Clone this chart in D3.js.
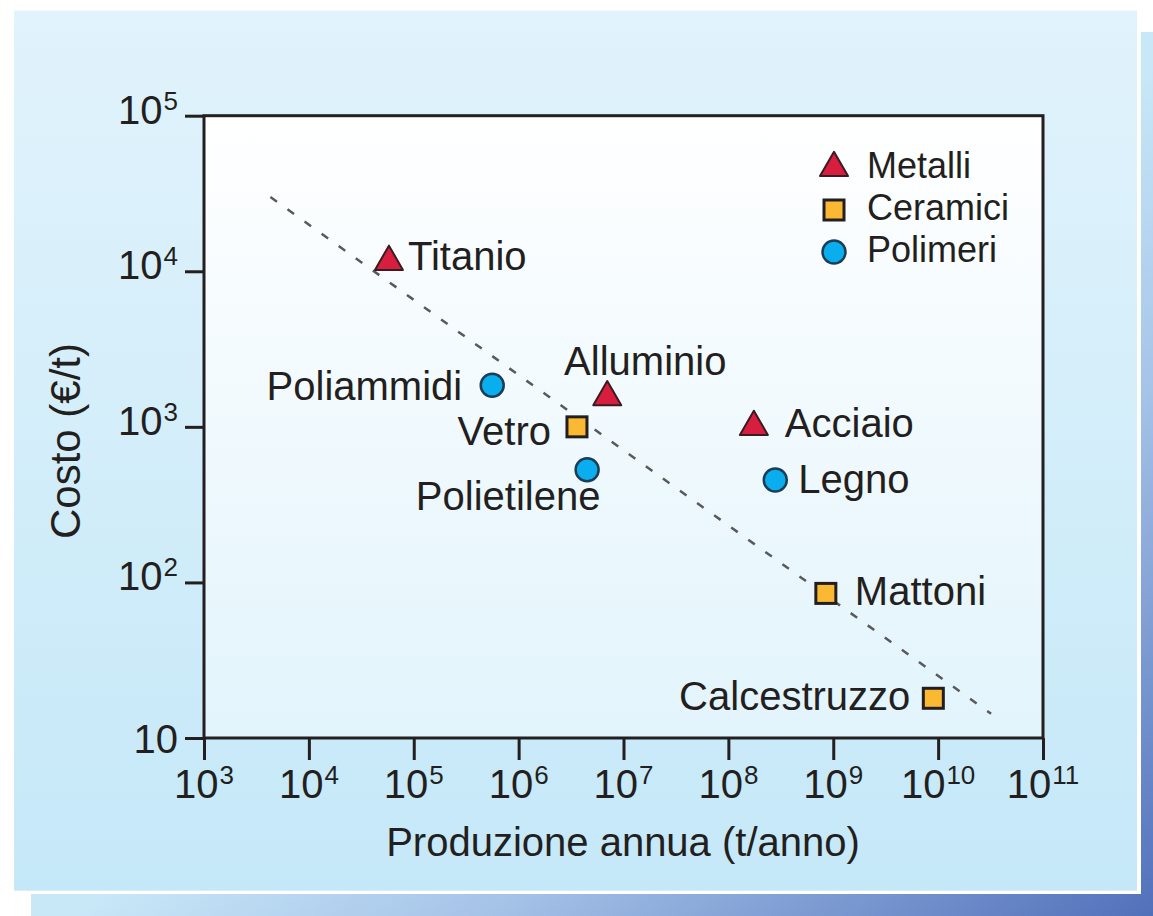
<!DOCTYPE html>
<html lang="it">
<head>
<meta charset="utf-8">
<title>Costo vs produzione annua</title>
<script src="https://cdn.jsdelivr.net/npm/d3@7"></script>
<style>
body { margin:0; background:#fff; }
text { font-family:"Liberation Sans", Arial, sans-serif; fill:#231f20; }
.tick line { stroke:#231f20; stroke-width:3px; }
</style>
</head>
<body>
<div id="chart1"></div>
<script>
// dati
var materials  = ["Titanio", "Alluminio", "Acciaio", "Vetro", "Mattoni", "Calcestruzzo", "Poliammidi", "Polietilene", "Legno"];
var classes    = ["Metalli", "Metalli", "Metalli", "Ceramici", "Ceramici", "Ceramici", "Polimeri", "Polimeri", "Polimeri"];
var production = [5.8e4, 7.0e6, 1.75e8, 3.6e6, 8.5e8, 9.0e9, 5.6e5, 4.5e6, 2.8e8];   // t/anno
var cost       = [1.15e4, 1550, 1000, 1000, 85, 18, 1850, 530, 455];                   // euro/t
var trendX = [4.3e3, 3.2e10];
var trendY = [3.0e4, 14.3];
var legendClasses = ["Metalli", "Ceramici", "Polimeri"];
var xTicks = [1e3, 1e4, 1e5, 1e6, 1e7, 1e8, 1e9, 1e10, 1e11];
var yTicks = [10, 1e2, 1e3, 1e4, 1e5];
var xTitle = "Produzione annua (t/anno)";
var yTitle = "Costo (€/t)";

(function(){
	var W = 1153, H = 916;
	var plot = {left:204, right:1043, top:115.7, bottom:738};

	var svg = d3.select("#chart1").append("svg")
		.attr("width", W).attr("height", H);
	var defs = svg.append("defs");

	var g1 = defs.append("linearGradient").attr("id", "panelGrad")
		.attr("x1", 0).attr("y1", 0).attr("x2", 0).attr("y2", 1);
	g1.append("stop").attr("offset", 0).attr("stop-color", "#e1f3fc");
	g1.append("stop").attr("offset", 1).attr("stop-color", "#c5e8f8");

	var g2 = defs.append("linearGradient").attr("id", "plotGrad")
		.attr("x1", 0).attr("y1", 0).attr("x2", 0).attr("y2", 1);
	g2.append("stop").attr("offset", 0).attr("stop-color", "#ffffff");
	g2.append("stop").attr("offset", 1).attr("stop-color", "#e2f4fc");

	var g3 = defs.append("linearGradient").attr("id", "shadowGrad")
		.attr("x1", 0).attr("y1", 0).attr("x2", 1).attr("y2", 1);
	g3.append("stop").attr("offset", 0.52).attr("stop-color", "#c8e8f8");
	g3.append("stop").attr("offset", 0.7).attr("stop-color", "#a6c3e8");
	g3.append("stop").attr("offset", 1).attr("stop-color", "#5170ba");

	// cornice
	svg.append("rect").attr("x", 31).attr("y", 32).attr("width", W - 31).attr("height", H - 32)
		.attr("fill", "url(#shadowGrad)");
	svg.append("rect").attr("x", 10).attr("y", 7).attr("width", 1131).attr("height", 887)
		.attr("fill", "#fff");
	svg.append("rect").attr("x", 14).attr("y", 10.7).attr("width", 1123).attr("height", 880)
		.attr("fill", "url(#panelGrad)");

	var x = d3.scaleLog().domain([1e3, 1e11]).range([plot.left, plot.right]);
	var y = d3.scaleLog().domain([10, 1e5]).range([plot.bottom, plot.top]);

	svg.append("rect")
		.attr("x", plot.left).attr("y", plot.top)
		.attr("width", plot.right - plot.left).attr("height", plot.bottom - plot.top)
		.attr("fill", "url(#plotGrad)");

	// assi
	var xAxis = svg.append("g").attr("transform", "translate(0," + plot.bottom + ")")
		.call(d3.axisBottom(x).tickValues(xTicks).tickSize(22).tickFormat(""));
	var yAxis = svg.append("g").attr("transform", "translate(" + plot.left + ",0)")
		.call(d3.axisLeft(y).tickValues(yTicks).tickSize(19).tickFormat(""));
	xAxis.select(".domain").remove();
	yAxis.select(".domain").remove();

	svg.append("rect")
		.attr("x", plot.left).attr("y", plot.top)
		.attr("width", plot.right - plot.left).attr("height", plot.bottom - plot.top)
		.attr("fill", "none").attr("stroke", "#231f20").attr("stroke-width", 3);

	function expLabel(sel, v){
		var e = Math.round(Math.log10(v));
		sel.append("tspan").text("10");
		if (e > 1) sel.append("tspan").attr("font-size", 26).attr("dy", -14).attr("dx", 1).text(e);
	}
	xTicks.forEach(function(v){
		svg.append("text").attr("x", x(v)).attr("y", 798)
			.attr("text-anchor", "middle").attr("font-size", 40)
			.call(expLabel, v);
	});
	yTicks.forEach(function(v){
		svg.append("text").attr("x", 178).attr("y", y(v) + (v > 10 ? 8 : 15))
			.attr("text-anchor", "end").attr("font-size", 40)
			.call(expLabel, v);
	});

	svg.append("text").attr("x", 623).attr("y", 856)
		.attr("text-anchor", "middle").attr("font-size", 40).text(xTitle);
	svg.append("text").attr("transform", "translate(80,441) rotate(-90)")
		.attr("text-anchor", "middle").attr("font-size", 42).text(yTitle);

	// retta di tendenza
	svg.append("line")
		.attr("x1", x(trendX[0])).attr("y1", y(trendY[0]))
		.attr("x2", x(trendX[1])).attr("y2", y(trendY[1]))
		.attr("stroke", "#58595b").attr("stroke-width", 2.5)
		.attr("stroke-dasharray", "8,13");

	// simboli
	var tri = 28, triH = tri * Math.sqrt(3) / 2;
	function drawMarker(sel, cls){
		if (cls == "Metalli") {
			sel.append("path")
				.attr("d", "M0," + (-2 * triH / 3) + "L" + (tri / 2) + "," + (triH / 3) + "L" + (-tri / 2) + "," + (triH / 3) + "Z")
				.attr("fill", "#d81e3e").attr("stroke", "#3b1b22").attr("stroke-width", 2).attr("stroke-linejoin", "round");
		} else if (cls == "Ceramici") {
			sel.append("rect").attr("x", -10).attr("y", -10).attr("width", 20).attr("height", 20)
				.attr("fill", "#fbb832").attr("stroke", "#231f20").attr("stroke-width", 3);
		} else {
			sel.append("circle").attr("r", 11.5)
				.attr("fill", "#0aaeef").attr("stroke", "#1b3e56").attr("stroke-width", 2.5);
		}
	}

	// posizione delle etichette rispetto al punto
	var labelPlace = {
		"Titanio":      {dx: 19,  dy: 8,   anchor: "start"},
		"Alluminio":    {dx: 38,  dy: -22, anchor: "middle"},
		"Acciaio":      {dx: 31,  dy: 10,  anchor: "start"},
		"Vetro":        {dx: -26, dy: 18,  anchor: "end"},
		"Mattoni":      {dx: 29,  dy: 12,  anchor: "start"},
		"Calcestruzzo": {dx: -23, dy: 12,  anchor: "end"},
		"Poliammidi":   {dx: -30, dy: 15,  anchor: "end"},
		"Polietilene":  {dx: -79, dy: 40,  anchor: "middle"},
		"Legno":        {dx: 23,  dy: 13,  anchor: "start"}
	};

	var pts = svg.append("g").selectAll("g").data(d3.range(materials.length))
		.enter().append("g")
			.attr("transform", function(i){ return "translate(" + x(production[i]) + "," + y(cost[i]) + ")"; });
	pts.each(function(i){ drawMarker(d3.select(this), classes[i]); });
	pts.append("text")
		.attr("x", function(i){ return labelPlace[materials[i]].dx; })
		.attr("y", function(i){ return labelPlace[materials[i]].dy; })
		.attr("text-anchor", function(i){ return labelPlace[materials[i]].anchor; })
		.attr("font-size", 40)
		.text(function(i){ return materials[i]; });

	// legenda
	var legend = svg.append("g").attr("transform", "translate(834,168)");
	var items = legend.selectAll("g").data(legendClasses).enter().append("g")
		.attr("transform", function(d, i){ return "translate(0," + (i * 42) + ")"; });
	items.each(function(d){ drawMarker(d3.select(this), d); });
	items.append("text").attr("x", 33).attr("y", 10).attr("font-size", 36)
		.text(function(d){ return d; });
})();
</script>
</body>
</html>
